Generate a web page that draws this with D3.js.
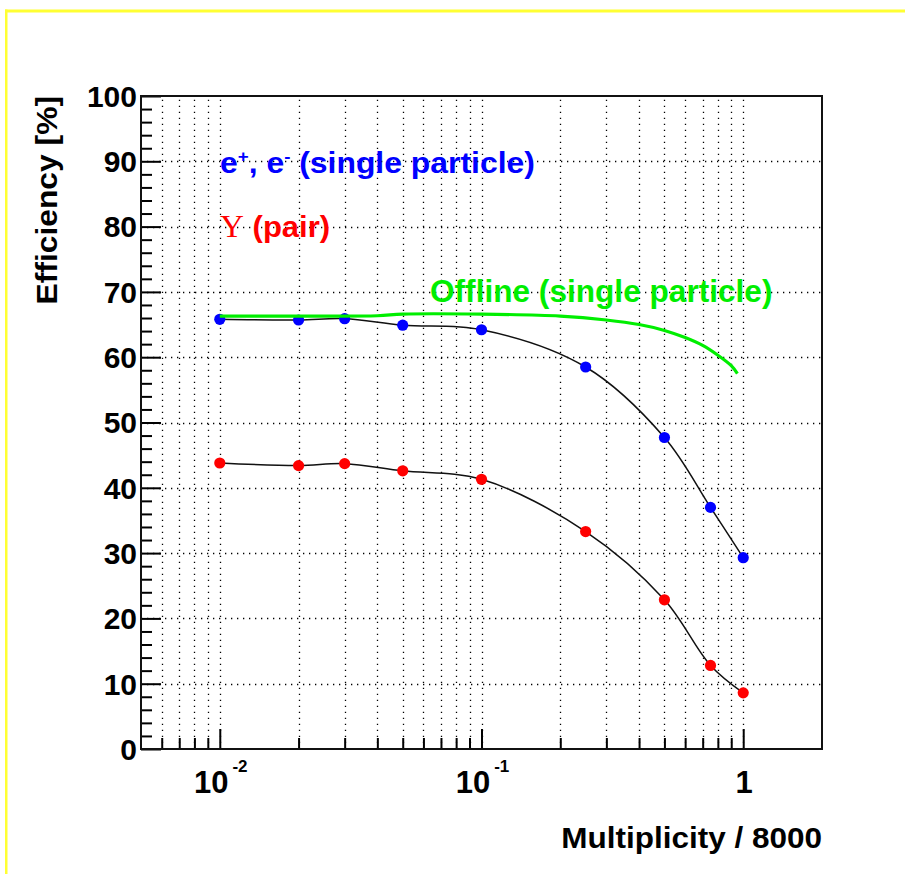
<!DOCTYPE html>
<html>
<head>
<meta charset="utf-8">
<script src="https://cdn.jsdelivr.net/npm/d3@7/dist/d3.min.js"></script>
<style>
  html, body { margin: 0; padding: 0; background: #ffffff; }
  svg { display: block; }
  text { font-family: "Liberation Sans", Arial, Helvetica, sans-serif; font-weight: bold; }
</style>
</head>
<body>
<svg id="chart" width="905" height="874"></svg>
<script>
// Multiplicity values (fraction of 8000) at which efficiencies were measured
const multiplicity = [0.01, 0.02, 0.03, 0.05, 0.1, 0.25, 0.5, 0.75, 1.0];
// Single-particle (e+, e-) efficiency [%]
const singleEff = [65.8, 65.7, 65.9, 64.9, 64.2, 58.5, 47.7, 37.0, 29.3];
// Upsilon pair efficiency [%]
const pairEff = [43.8, 43.4, 43.7, 42.6, 41.3, 33.3, 22.85, 12.8, 8.6];
// Offline single-particle efficiency curve
const offlineX = [0.01, 0.02, 0.04, 0.05, 0.1, 0.2, 0.3, 0.4, 0.5, 0.6, 0.7, 0.8, 0.9, 0.95];
const offlineEff = [66.3, 66.3, 66.35, 66.6, 66.6, 66.3, 65.7, 65.0, 64.1, 63.0, 61.8, 60.3, 58.7, 57.5];
// Axis ticks and labels
const yMajor = d3.range(0, 101, 10);
const yMinor = d3.range(0, 101, 2).filter(v => v % 10 !== 0);
const xLabels = [
  { v: 0.01, base: "10", exp: "-2" },
  { v: 0.1, base: "10", exp: "-1" },
  { v: 1, base: "1", exp: null }
];

const svg = d3.select("#chart");

// Canvas decoration: yellow pad edges on top and left
svg.append("rect").attr("x", 5).attr("y", 9.5).attr("width", 900).attr("height", 3).attr("fill", "#ffff33");
svg.append("rect").attr("x", 5).attr("y", 9.5).attr("width", 2.5).attr("height", 865).attr("fill", "#ffff33");

const frameL = 141, frameR = 822, frameT = 96, frameB = 749;
const x = d3.scaleLog().domain([0.005, 2]).range([frameL, frameR]);
const y = d3.scaleLinear().domain([0, 100]).range([frameB, frameT]);

const isMajor = v => Math.abs(Math.log10(v) - Math.round(Math.log10(v))) < 1e-9;
const xTicksAll = x.ticks().filter(v => v > 0.005 * 1.0001 && v < 2 * 0.9999);
const xMajor = xTicksAll.filter(isMajor);
const xMinor = xTicksAll.filter(v => !isMajor(v));

// Dotted grid
const grid = svg.append("g").attr("stroke", "#000").attr("stroke-width", 1.3)
  .attr("stroke-dasharray", "1.3 4.7").attr("fill", "none");
grid.selectAll("line.v").data(xTicksAll).join("line").attr("class", "v")
  .attr("x1", d => Math.round(x(d)) + 0.5).attr("x2", d => Math.round(x(d)) + 0.5)
  .attr("y1", frameB).attr("y2", frameT);
grid.selectAll("line.h").data(yMajor.filter(v => v > 0 && v < 100)).join("line").attr("class", "h")
  .attr("y1", d => Math.round(y(d)) + 0.5).attr("y2", d => Math.round(y(d)) + 0.5)
  .attr("x1", frameL).attr("x2", frameR);

// Axes: ticks pointing into the frame
function styleAxis(g) {
  g.select(".domain").remove();
  g.selectAll(".tick line").attr("stroke", "#000").attr("stroke-width", 2);
  g.selectAll(".tick text").remove();
}
svg.append("g").attr("transform", `translate(0,${frameB})`)
  .call(d3.axisBottom(x).tickValues(xMajor).tickSizeInner(-20).tickSizeOuter(0).tickFormat(""))
  .call(styleAxis);
svg.append("g").attr("transform", `translate(0,${frameB})`)
  .call(d3.axisBottom(x).tickValues(xMinor).tickSizeInner(-11).tickSizeOuter(0).tickFormat(""))
  .call(styleAxis);
svg.append("g").attr("transform", `translate(${frameL},0)`)
  .call(d3.axisLeft(y).tickValues(yMajor).tickSizeInner(-20).tickSizeOuter(0).tickFormat(""))
  .call(styleAxis);
svg.append("g").attr("transform", `translate(${frameL},0)`)
  .call(d3.axisLeft(y).tickValues(yMinor).tickSizeInner(-11).tickSizeOuter(0).tickFormat(""))
  .call(styleAxis);

// Frame
svg.append("rect").attr("x", frameL).attr("y", frameT).attr("width", frameR - frameL).attr("height", frameB - frameT)
  .attr("fill", "none").attr("stroke", "#111").attr("stroke-width", 2);

// Y tick labels
svg.append("g").selectAll("text").data(yMajor).join("text")
  .attr("x", 137).attr("y", d => y(d)).attr("dy", "0.36em")
  .attr("text-anchor", "end").attr("font-size", 30).attr("fill", "#000")
  .text(d => d);

// X tick labels with exponents
const xl = svg.append("g").selectAll("text").data(xLabels).join("text")
  .attr("x", d => x(d.v) + 1).attr("y", 793)
  .attr("text-anchor", "middle").attr("font-size", 31).attr("fill", "#000");
xl.append("tspan").text(d => d.base);
xl.filter(d => d.exp).append("tspan").attr("dx", 4).attr("dy", -21).attr("font-size", 17).text(d => d.exp);

// Axis titles (slightly widened glyphs)
svg.append("text").attr("transform", `translate(${frameR},848) scale(1.05,1)`).attr("text-anchor", "end")
  .attr("font-size", 30).attr("fill", "#000").text("Multiplicity / 8000");
svg.append("text").attr("transform", `translate(57,${frameT}) rotate(-90) scale(1.06,1)`).attr("text-anchor", "end")
  .attr("font-size", 30).attr("fill", "#000").text("Efficiency [%]");

// Smooth curves through measured points
const line = d3.line().x(d => x(d[0])).y(d => y(d[1])).curve(d3.curveCatmullRom.alpha(0.5));
const singlePts = multiplicity.map((m, i) => [m, singleEff[i]]);
const pairPts = multiplicity.map((m, i) => [m, pairEff[i]]);
const offlinePts = offlineX.map((m, i) => [m, offlineEff[i]]);

svg.append("path").datum(singlePts).attr("d", line).attr("fill", "none").attr("stroke", "#111").attr("stroke-width", 1.5);
svg.append("path").datum(pairPts).attr("d", line).attr("fill", "none").attr("stroke", "#111").attr("stroke-width", 1.5);

svg.append("g").selectAll("circle").data(singlePts).join("circle")
  .attr("cx", d => x(d[0])).attr("cy", d => y(d[1])).attr("r", 5.6).attr("fill", "#0000ff");
svg.append("g").selectAll("circle").data(pairPts).join("circle")
  .attr("cx", d => x(d[0])).attr("cy", d => y(d[1])).attr("r", 5.6).attr("fill", "#ff0000");

svg.append("path").datum(offlinePts).attr("d", line).attr("fill", "none")
  .attr("stroke", "#00ee00").attr("stroke-width", 3.2).attr("stroke-linecap", "butt");

// Legend texts
const t1 = svg.append("text").attr("transform", "translate(220,173) scale(1.1,1)")
  .attr("font-size", 29).attr("fill", "#0000ff");
t1.append("tspan").text("e");
t1.append("tspan").attr("font-size", 17).attr("dy", -11).text("+");
t1.append("tspan").attr("dy", 11).text(", e");
t1.append("tspan").attr("font-size", 17).attr("dy", -11).text("-");
t1.append("tspan").attr("dy", 11).text(" (single particle)");

const t2 = svg.append("text").attr("transform", "translate(220,237) scale(1.07,1)")
  .attr("font-size", 29).attr("fill", "#ff0000");
t2.append("tspan").attr("font-family", "'Liberation Serif', 'Times New Roman', serif").attr("font-weight", "normal")
  .attr("font-size", 31).text("Υ");
t2.append("tspan").text(" (pair)");

svg.append("text").attr("transform", "translate(430,302) scale(1.02,1)")
  .attr("font-size", 31).attr("fill", "#00ee00")
  .text("Offline (single particle)");
</script>
</body>
</html>
